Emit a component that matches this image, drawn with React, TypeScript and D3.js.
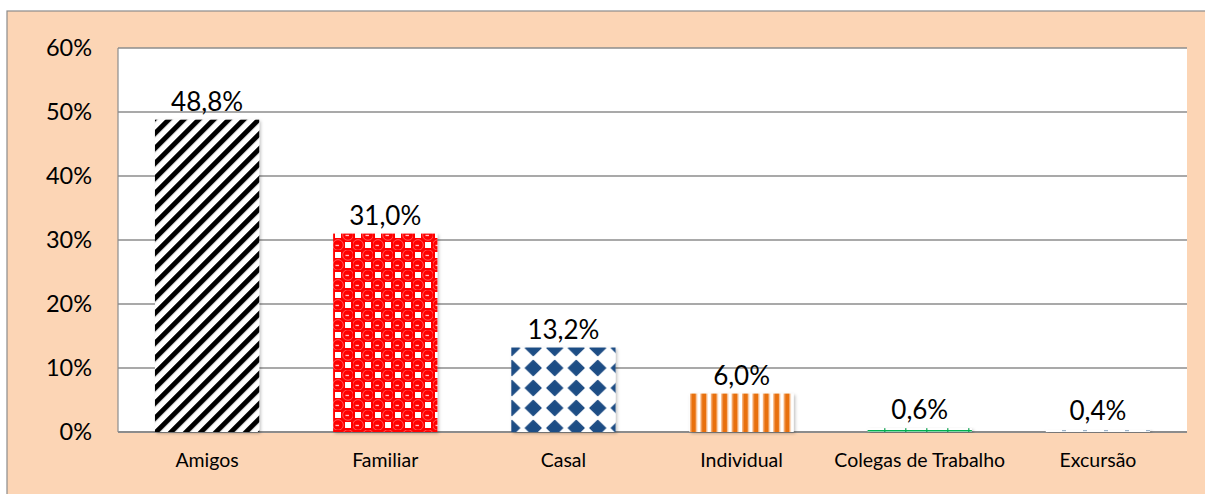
import React from 'react'
import * as d3 from 'd3'

const categories = ['Amigos', 'Familiar', 'Casal', 'Individual', 'Colegas de Trabalho', 'Excursão']
const values = [48.8, 31.0, 13.2, 6.0, 0.6, 0.4]
const labels = ['48,8%', '31,0%', '13,2%', '6,0%', '0,6%', '0,4%']
const yTicks = [0, 10, 20, 30, 40, 50, 60]
const fills = ['url(#pStripe)', 'url(#pDots)', 'url(#pDiamond)', 'url(#pVert)', 'url(#pGreen)', 'url(#pDash)']

const W = 1205
const H = 494
const plot = { left: 118, right: 1187, top: 48, bottom: 432 }
const font = 'Lato, "Open Sans", sans-serif'

export default function App() {
  const x = d3.scaleBand().domain(categories).range([plot.left, plot.right]).paddingInner(0.415).paddingOuter(0.2075)
  const y = d3.scaleLinear().domain([0, 60]).range([plot.bottom, plot.top])

  return (
    <svg width={W} height={H} style={{ position: 'absolute', left: 0, top: 0 }}>
      <defs>
        <pattern id="pStripe" width="10.6" height="10.6" patternUnits="userSpaceOnUse" patternTransform="rotate(45)">
          <rect width="10.6" height="10.6" fill="#fff" />
          <rect width="5" height="10.6" fill="#000" />
        </pattern>
        <pattern id="pDots" width="20" height="20" patternUnits="userSpaceOnUse" x="333" y="230">
          <rect width="20" height="20" fill="#f00" />
          <rect x="2" y="2" width="6" height="6" fill="#fff" />
          <rect x="12" y="12" width="6" height="6" fill="#fff" />
          <circle cx="15" cy="5" r="5.3" fill="#ff0000" stroke="#ff6060" strokeWidth="0.9" />
          <circle cx="5" cy="15" r="5.3" fill="#ff0000" stroke="#ff6060" strokeWidth="0.9" />
          <rect x="12.5" y="4.8" width="3.5" height="1.3" fill="#ffc0c0" />
          <rect x="2.5" y="14.8" width="3.5" height="1.3" fill="#ffc0c0" />
        </pattern>
        <pattern id="pDiamond" width="21.5" height="20" patternUnits="userSpaceOnUse" x="501" y="338">
          <rect width="21.5" height="20" fill="#fff" />
          <path d="M10.75,2.5 L18.5,10 L10.75,17.5 L3,10 Z" fill="#1f4e85" stroke="#1f4e85" strokeWidth="1.5" strokeLinejoin="round" />
        </pattern>
        <pattern id="pVert" width="10.4" height="10" patternUnits="userSpaceOnUse" x="690">
          <rect width="10.4" height="10" fill="#fff" />
          <rect x="0" width="1.2" height="10" fill="#f6b27a" />
          <rect x="1.2" width="4.6" height="10" fill="#e8700f" />
          <rect x="5.8" width="1.2" height="10" fill="#f6b27a" />
        </pattern>
        <pattern id="pGreen" width="21" height="10" patternUnits="userSpaceOnUse" x="842">
          <rect width="21" height="10" fill="#fff" />
          <rect width="1.5" height="10" fill="#3cb371" />
          <rect width="21" height="1.5" fill="#00b050" />
        </pattern>
        <pattern id="pDash" width="21" height="10" patternUnits="userSpaceOnUse" x="1018">
          <rect width="21" height="10" fill="#fff" />
          <rect x="2" width="4" height="1.2" fill="#9fb4c8" />
        </pattern>
        <filter id="shadow" x="-10%" y="-10%" width="120%" height="120%">
          <feDropShadow dx="1.5" dy="1.5" stdDeviation="1.5" floodColor="#000" floodOpacity="0.25" />
        </filter>
      </defs>

      <rect x={0} y={0} width={W} height={H} fill="#fff" />
      <rect x={7} y={11} width={W + 10} height={H + 10} fill="#fcd5b5" stroke="#8c8c8c" strokeWidth={1.2} />
      <rect x={plot.left} y={plot.top} width={plot.right - plot.left} height={plot.bottom - plot.top} fill="#fff" />

      {yTicks.map(t => (
        <g key={t}>
          <line x1={plot.left} x2={plot.right} y1={y(t)} y2={y(t)} stroke="#8c8c8c" strokeWidth={t === 0 ? 2.2 : 1.6} />
          <text x={92} y={y(t)} dy="0.36em" textAnchor="end" fontFamily={font} fontSize={23.5} fill="#000">{t}%</text>
        </g>
      ))}
      <line x1={plot.left} x2={plot.left} y1={plot.top} y2={plot.bottom} stroke="#8c8c8c" strokeWidth={1.2} />

      {categories.map((c, i) => {
        const bx = x(c) as number
        const by = y(values[i])
        return (
          <g key={c}>
            <rect x={bx} y={by} width={x.bandwidth()} height={plot.bottom - by} fill={fills[i]} filter="url(#shadow)" />
            <text x={bx + x.bandwidth() / 2} y={by - 9} textAnchor="middle" fontFamily={font} fontSize={26} fill="#000">{labels[i]}</text>
            <text x={bx + x.bandwidth() / 2} y={467} textAnchor="middle" fontFamily={font} fontSize={19.5} fill="#000">{c}</text>
          </g>
        )
      })}
    </svg>
  )
}
